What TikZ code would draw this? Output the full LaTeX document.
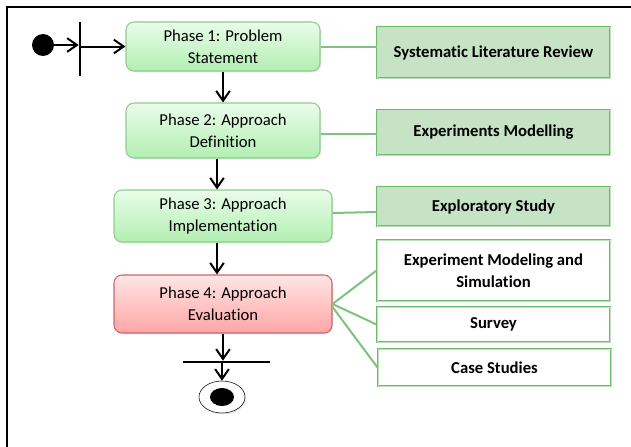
\documentclass[tikz,border=0pt]{standalone}
\usepackage{fontspec}
\setmainfont{Carlito}[Ligatures=NoCommon]
\usepackage{tikz}
\usetikzlibrary{arrows.meta,positioning,calc,shapes.geometric,shadows}
\definecolor{PhaseTop}{HTML}{EAFCEA}
\definecolor{PhaseBot}{HTML}{B2EFB2}
\definecolor{PhaseLine}{HTML}{8CCF8C}
\definecolor{EvalTop}{HTML}{FFE6E6}
\definecolor{EvalBot}{HTML}{FFA5A5}
\definecolor{EvalLine}{HTML}{CC6868}
\definecolor{MethFill}{HTML}{C6E3C6}
\definecolor{MethLine}{HTML}{6DBB6D}
\definecolor{LinkGreen}{HTML}{7EC27E}
\tikzset{
  phase/.style={draw=PhaseLine, thick, rounded corners=6pt, align=center, top color=PhaseTop, bottom color=PhaseBot, inner sep=2pt, font=\fontsize{12.5}{16.3}\selectfont, drop shadow={opacity=0.2, shadow xshift=1pt, shadow yshift=-1pt}},
  evalphase/.style={phase, draw=EvalLine, top color=EvalTop, bottom color=EvalBot},
  method/.style={draw=MethLine, line width=0.7pt, double=MethLine!45, double distance=0.5pt, align=center, fill=MethFill, inner sep=2pt, minimum width=174.75pt, font=\bfseries\fontsize{12.5}{16.3}\selectfont},
  openmethod/.style={method, fill=white},
  bar/.style={fill=black, inner sep=0pt},
  flow/.style={-{Straight Barb[length=2.6mm, width=3.6mm]}, line width=1.5pt},
  link/.style={draw=LinkGreen, line width=1.5pt}
}
\begin{document}
\begin{tikzpicture}[x=0.75pt, y=-0.75pt]
\useasboundingbox (0,0) rectangle (631,446);
\draw[line width=1.6pt] (7,450) -- (7,7) -- (640,7);
% activity flow
\node[circle, fill=black, minimum size=16.5pt, inner sep=0pt] (start) at (43,45) {};
\node[bar, minimum width=1.5pt, minimum height=40.5pt] (fork) at (80,49) {};
\node[phase, minimum width=145.5pt, minimum height=36.75pt] (p1) at (223,46.5) {Phase 1: Problem\\Statement};
\node[phase, minimum width=145.5pt, minimum height=41.25pt] (p2) at (223,130.5) {Phase 2: Approach\\Definition};
\node[phase, minimum width=163.5pt, minimum height=39pt] (p3) at (223,216) {Phase 3: Approach\\Implementation};
\node[evalphase, minimum width=163.5pt, minimum height=43.5pt] (p4) at (223,304) {Phase 4: Approach\\Evaluation};
\node[bar, minimum width=65.25pt, minimum height=1.5pt] (join) at (226.5,362) {};
\node[ellipse, draw, thin, fill=white, minimum width=34.5pt, minimum height=24pt, inner sep=0pt, drop shadow={opacity=0.2, shadow xshift=1pt, shadow yshift=-1pt}] (finish) at (222,397) {};
\node[ellipse, fill=black, minimum width=18pt, minimum height=13.5pt, inner sep=0pt] (finishdot) at (finish) {};
% methods
\node[method, minimum height=38.25pt] (slr) at (493.5,52.5) {Systematic Literature Review};
\node[method, minimum height=33.75pt] (expmod) at (493.5,132.5) {Experiments Modelling};
\node[method, minimum height=29.25pt] (explor) at (493.5,206.5) {Exploratory Study};
\node[openmethod, minimum height=45.75pt] (sim) at (493.5,270.5) {Experiment Modeling and\\Simulation};
\node[openmethod, minimum height=26.25pt] (survey) at (493.5,324.5) {Survey};
\node[openmethod, minimum height=27.75pt] (cases) at (494.5,367.5) {Case Studies};
\draw[flow] (start) -- (start -| fork.west);
\draw[flow] (fork.east |- p1.west) -- (p1.west);
\draw[flow] (p1) -- (p2);
\draw[flow] ($(p2.south)+(-6,0)$) -- ($(p3.north)+(-6,0)$);
\draw[flow] ($(p3.south)+(-6,0)$) -- ($(p4.north)+(-6,0)$);
\draw[flow] (p4.south) -- (p4.south |- join.north);
\draw[flow] (finish.north |- join.south) -- (finish.north);
\draw[link] (p1.east) -- (p1.east -| slr.west);
\draw[link] ($(p2.east)+(0,3)$) -- ($(p2.east -| expmod.west)+(0,3)$);
\draw[link] ($(p3.east)+(0,-3)$) -- ($(p3.east -| explor.west)+(0,-4)$);
\draw[link] (p4.east) -- (sim.west);
\draw[link] (p4.east) -- (survey.west);
\draw[link] ($(p4.east)+(0,3)$) -- (cases.west);
\end{tikzpicture}
\end{document}
